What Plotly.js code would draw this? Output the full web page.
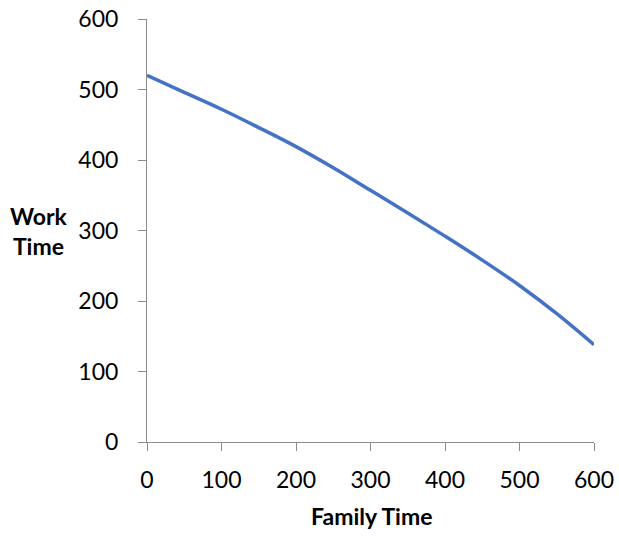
<!DOCTYPE html>
<html>
<head>
<meta charset="utf-8">
<script src="https://cdn.plot.ly/plotly-3.0.1.min.js"></script>
<style>html,body{margin:0;padding:0;background:#fff;}#chart{width:619px;height:537px;}</style>
</head>
<body>
<div id="chart"></div>
<script>
const familyTime = [0, 50, 100, 150, 200, 250, 300, 350, 400, 450, 500, 550, 600];
const workTime   = [520, 496, 472, 446, 419, 389, 357, 325, 292, 258, 222, 182, 138];
const tickVals = [0, 100, 200, 300, 400, 500, 600];
const tickText = ["0", "100", "200", "300", "400", "500", "600"];
const xTitle = "Family Time";
const yTitle = "Work<br>Time";

const FONT = "Lato, 'Open Sans', sans-serif";
const axisCommon = {
  range: [0, 600],
  tickmode: "array",
  tickvals: tickVals,
  ticktext: tickText,
  showgrid: false,
  zeroline: false,
  showline: true,
  linecolor: "#8c8c8c",
  linewidth: 1,
  ticks: "outside",
  ticklen: 8,
  tickcolor: "#8c8c8c",
  tickwidth: 1,
  tickfont: {family: FONT, size: 23, color: "#000"},
  fixedrange: true
};

Plotly.newPlot("chart", [{
  x: familyTime,
  y: workTime,
  type: "scatter",
  mode: "lines",
  line: {color: "#4472C4", width: 3.5, shape: "spline", smoothing: 1},
  hoverinfo: "skip"
}], {
  width: 619,
  height: 537,
  margin: {l: 147, r: 25, t: 19, b: 95},
  paper_bgcolor: "#fff",
  plot_bgcolor: "#fff",
  showlegend: false,
  xaxis: Object.assign({}, axisCommon, {ticklabelstandoff: 9}),
  yaxis: Object.assign({}, axisCommon, {ticklabelstandoff: 15}),
  annotations: [
    {text: "<b>" + xTitle + "</b>", xref: "paper", yref: "paper", x: 0.503, y: -0.176,
     xanchor: "center", yanchor: "middle", showarrow: false,
     font: {family: FONT, size: 23, color: "#000"}},
    {text: "<b>" + yTitle.replace("<br>", "</b><br><b>") + "</b>", xref: "paper", yref: "paper",
     x: -0.241, y: 0.498, xanchor: "center", yanchor: "middle", showarrow: false, align: "center",
     font: {family: FONT, size: 23, color: "#000"}}
  ]
}, {staticPlot: true, displayModeBar: false});
</script>
</body>
</html>
